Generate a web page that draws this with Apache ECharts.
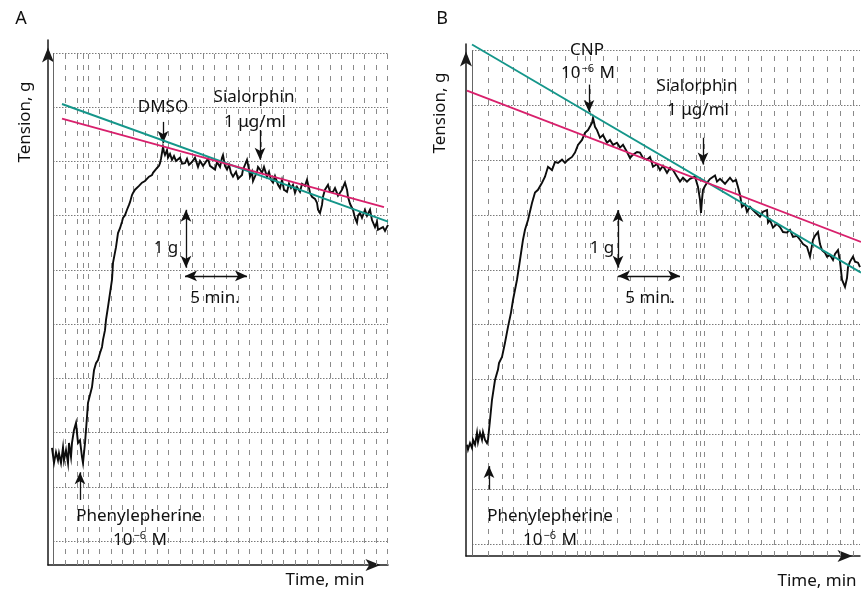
<!DOCTYPE html>
<html>
<head>
<meta charset="utf-8">
<script src="https://cdn.jsdelivr.net/npm/echarts@6/dist/echarts.min.js"></script>
<style>
  html, body { margin: 0; padding: 0; background: #fff; }
  #main { width: 861px; height: 595px; }
</style>
</head>
<body>
<div id="main"></div>
<script>
// time in min, tension in g
var traceA = [[0.32,1.72],[0.48,1.44],[0.64,1.64],[0.80,1.49],[0.88,1.62],[1.04,1.44],[1.20,1.73],[1.28,1.49],[1.44,1.68],[1.60,1.44],[1.68,1.81],[1.84,1.55],[1.92,1.81],[2.08,2.05],[2.24,2.18],[2.32,1.99],[2.40,1.81],[2.56,1.86],[2.72,1.55],[2.80,1.44],[2.96,1.81],[3.12,2.29],[3.20,2.55],[3.52,2.84],[3.68,3.15],[3.84,3.28],[4.00,3.34],[4.16,3.47],[4.32,3.58],[4.40,3.71],[4.56,3.89],[4.64,4.08],[4.80,4.32],[5.12,4.82],[5.20,5.13],[5.44,5.42],[5.60,5.68],[5.76,5.77],[5.92,5.89],[6.00,5.96],[6.16,6.01],[6.32,6.11],[6.48,6.20],[6.56,6.25],[6.72,6.38],[6.80,6.42],[6.96,6.48],[7.12,6.51],[7.28,6.55],[7.36,6.57],[7.52,6.61],[7.60,6.62],[7.76,6.64],[7.92,6.66],[8.08,6.72],[8.16,6.70],[8.32,6.75],[8.40,6.79],[8.56,6.81],[8.72,6.88],[8.88,6.92],[8.96,6.97],[9.04,7.05],[9.12,7.08],[9.20,7.27],[9.28,7.18],[9.36,7.12],[9.52,7.21],[9.60,7.07],[9.76,7.14],[9.92,7.03],[10.08,7.10],[10.24,7.01],[10.40,6.99],[10.56,7.07],[10.72,6.96],[10.96,6.97],[11.12,7.05],[11.28,6.94],[11.52,6.99],[11.76,7.07],[12.00,6.90],[12.16,7.01],[12.40,6.92],[12.56,6.97],[12.80,7.05],[12.96,6.92],[13.12,6.90],[13.36,6.85],[13.52,6.99],[13.76,6.90],[13.92,7.07],[14.00,7.12],[14.16,6.92],[14.32,6.85],[14.48,6.94],[14.64,6.79],[14.80,6.72],[15.04,6.81],[15.20,6.68],[15.36,6.66],[15.52,6.75],[15.60,6.85],[15.76,6.94],[15.92,7.03],[16.08,6.85],[16.16,6.72],[16.32,6.81],[16.40,6.64],[16.56,6.66],[16.72,6.81],[16.80,6.90],[16.96,6.85],[17.12,6.79],[17.28,6.90],[17.52,6.72],[17.68,6.81],[17.84,6.66],[18.00,6.61],[18.16,6.73],[18.40,6.57],[18.56,6.51],[18.72,6.66],[18.88,6.48],[19.12,6.44],[19.28,6.59],[19.44,6.51],[19.60,6.57],[19.76,6.42],[19.92,6.53],[20.16,6.44],[20.32,6.59],[20.56,6.55],[20.72,6.66],[20.88,6.51],[20.96,6.42],[21.12,6.35],[21.36,6.31],[21.52,6.24],[21.60,6.11],[21.76,6.05],[21.92,6.20],[22.00,6.35],[22.16,6.48],[22.40,6.57],[22.56,6.44],[22.80,6.44],[22.96,6.51],[23.20,6.37],[23.36,6.35],[23.52,6.48],[23.76,6.61],[23.92,6.48],[24.00,6.35],[24.16,6.22],[24.40,6.11],[24.56,5.96],[24.72,5.87],[24.80,6.00],[24.96,6.05],[25.12,5.96],[25.36,6.11],[25.52,6.00],[25.76,6.11],[25.92,5.92],[26.16,5.79],[26.32,5.89],[26.40,5.74],[26.56,5.77],[26.80,5.79],[26.96,5.72],[27.20,5.83]];

var traceB = [[0.08,1.81],[0.16,1.72],[0.32,1.84],[0.48,1.75],[0.56,1.90],[0.72,1.81],[0.88,2.03],[0.96,1.86],[1.12,2.03],[1.28,1.90],[1.36,2.04],[1.52,1.90],[1.68,1.84],[1.76,1.90],[1.92,2.26],[2.08,2.63],[2.32,2.99],[2.56,3.18],[2.64,3.30],[2.88,3.41],[3.12,3.67],[3.36,3.96],[3.60,4.22],[3.76,4.45],[4.08,4.82],[4.32,5.18],[4.56,5.55],[4.72,5.73],[4.96,5.91],[5.28,6.22],[5.52,6.41],[5.76,6.46],[6.08,6.59],[6.32,6.70],[6.56,6.88],[6.88,6.82],[7.12,6.97],[7.36,6.95],[7.68,7.01],[7.92,6.95],[8.16,7.01],[8.48,7.06],[8.72,7.14],[8.96,7.28],[9.28,7.37],[9.52,7.50],[9.76,7.55],[10.08,7.68],[10.16,7.77],[10.32,7.61],[10.48,7.55],[10.72,7.41],[10.96,7.46],[11.28,7.32],[11.52,7.37],[11.76,7.28],[12.08,7.32],[12.32,7.23],[12.56,7.28],[12.88,7.15],[13.12,7.04],[13.36,7.10],[13.68,7.15],[13.92,7.14],[14.16,7.04],[14.48,7.01],[14.72,7.06],[14.96,6.88],[15.28,6.93],[15.52,6.82],[15.76,6.90],[16.08,6.77],[16.32,6.86],[16.56,6.82],[16.88,6.70],[17.12,6.61],[17.36,6.68],[17.68,6.61],[17.92,6.66],[18.08,6.64],[18.32,6.70],[18.56,6.51],[18.72,6.28],[18.80,6.04],[18.88,6.28],[18.96,6.46],[19.12,6.53],[19.28,6.59],[19.52,6.66],[19.68,6.64],[19.92,6.72],[20.08,6.61],[20.32,6.66],[20.48,6.68],[20.72,6.57],[20.88,6.59],[21.12,6.68],[21.36,6.61],[21.60,6.64],[21.76,6.51],[21.92,6.37],[22.08,6.15],[22.32,6.20],[22.48,6.06],[22.72,6.15],[22.96,6.09],[23.28,6.02],[23.52,5.97],[23.76,6.06],[24.08,6.09],[24.16,5.86],[24.32,5.91],[24.56,5.77],[24.88,5.84],[25.12,5.78],[25.36,5.69],[25.68,5.68],[25.92,5.73],[26.16,5.60],[26.48,5.62],[26.72,5.55],[26.96,5.47],[27.28,5.42],[27.52,5.24],[27.76,5.55],[27.92,5.62],[28.16,5.69],[28.32,5.47],[28.48,5.36],[28.72,5.31],[28.88,5.24],[29.12,5.27],[29.36,5.18],[29.52,5.29],[29.76,5.36],[29.92,5.15],[30.08,4.82],[30.32,4.69],[30.48,4.85],[30.56,5.05],[30.72,5.15],[30.96,5.24],[31.12,5.15],[31.36,5.13],[31.52,5.05]];

// regression lines
var tealA = [[1.12, 8.06], [27.2, 5.89]];
var pinkA = [[1.12, 7.79], [26.88, 6.16]];
var tealB = [[0.48, 9.11], [31.6, 4.95]];
var pinkB = [[0.08, 8.27], [31.6, 5.51]];

// chart paper rulings
var rows = [0, 1, 2, 3, 4, 5, 6, 7, 8, 9];
var colsA = [1.36,2.32,2.80,3.20,4.08,5.04,5.92,6.80,7.76,8.72,9.60,10.56,11.52,12.40,13.28,14.24,15.20,16.08,17.04,17.92,18.80,19.76,20.72,21.60,22.56,23.44,24.40,25.28,26.24,27.12];
var colsB = [1.76,2.88,3.76,4.88,5.92,6.88,7.92,8.88,9.52,9.92,10.96,12.08,13.12,14.24,15.28,16.32,17.36,18.40,18.72,19.04,20.48,21.52,22.56,23.60,24.64,25.68,26.72,27.76,28.88,29.92,30.96];
var edgeA = 0.40, edgeB = 0.48;

// annotation arrows: from, to, double-headed?
var arrowsA = [
  [[9.2, 7.73], [9.2, 7.34], false],
  [[16.96, 7.58], [16.96, 7.03], false],
  [[11.04, 6.11], [11.04, 5.04], true],
  [[10.96, 4.89], [15.92, 4.89], true],
  [[2.56, 0.76], [2.56, 1.27], false]
];
var arrowsB = [
  [[9.84, 8.38], [9.84, 7.88], false],
  [[18.96, 7.41], [18.96, 6.92], false],
  [[12.16, 6.09], [12.16, 5.04], true],
  [[12.16, 4.89], [17.12, 4.89], true],
  [[1.84, 0.99], [1.84, 1.42], false]
];
var CONC = '{n|10}{s|\u22126}{n| M}';
var labelsA = [
  ['DMSO', 9.2, 8.01], ['Sialorphin', 16.48, 8.19], ['1 \u03bcg/ml', 16.56, 7.73],
  ['1 g', 9.44, 5.41], ['5 min.', 13.36, 4.48],
  ['Phenylepherine', 7.28, 0.46], [CONC, 7.36, 0.02]
];
var labelsB = [
  ['CNP', 9.68, 9.01], [CONC, 9.76, 8.59],
  ['Sialorphin', 18.48, 8.36], ['1 \u03bcg/ml', 18.56, 7.92],
  ['1 g', 10.88, 5.40], ['5 min.', 14.72, 4.49],
  ['Phenylepherine', 6.72, 0.51], [CONC, 6.72, 0.07]
];

var FAM = '"Noto Sans", "Open Sans", sans-serif';
var chart = echarts.init(document.getElementById('main'));

function axisLine(size) {
  return {
    show: true, onZero: false,
    symbol: ['none', 'arrow'], symbolSize: [9, size], symbolOffset: [0, -size / 2],
    lineStyle: { color: '#1a1a1a', width: 1.5 }
  };
}
function ax(i, min, max) {
  return { gridIndex: i, type: 'value', min: min, max: max, axisLine: axisLine(15),
    axisTick: { show: false }, axisLabel: { show: false }, splitLine: { show: false } };
}

function panel(i, trace, teal, pink, cols, edge, xmax, ymin, arrows) {
  var rules = [];
  rows.forEach(function (k) {
    var st = { color: '#7a7a7a', width: 1, type: [1.5, 1.5] };
    rules.push([{ coord: [edge, k], lineStyle: st }, { coord: [xmax, k], lineStyle: st }]);
  });
  cols.forEach(function (c) {
    var st = { color: '#8a8a8a', width: 1, type: [5, 6] };
    rules.push([{ coord: [c, ymin], lineStyle: st }, { coord: [c, 9], lineStyle: st }]);
  });
  var est = { color: '#666', width: 1, type: 'solid' };
  rules.push([{ coord: [edge, ymin], lineStyle: est }, { coord: [edge, 9], lineStyle: est }]);

  var marks = arrows.map(function (a) {
    return [{ coord: a[0], symbol: a[2] ? 'arrow' : 'none' }, { coord: a[1], symbol: 'arrow' }];
  });

  return [
    { type: 'line', xAxisIndex: i, yAxisIndex: i, data: [], silent: true, z: 1,
      markLine: { silent: true, symbol: 'none', label: { show: false }, animation: false, data: rules } },
    { type: 'line', xAxisIndex: i, yAxisIndex: i, data: trace, symbol: 'none', z: 5,
      lineStyle: { color: '#0d0d0d', width: 1.9, join: 'miter' } },
    { type: 'line', xAxisIndex: i, yAxisIndex: i, data: teal, symbol: 'none', z: 6, clip: false,
      lineStyle: { color: '#15968a', width: 1.9 } },
    { type: 'line', xAxisIndex: i, yAxisIndex: i, data: pink, symbol: 'none', z: 6, clip: false,
      lineStyle: { color: '#d8206c', width: 1.9 } },
    { type: 'line', xAxisIndex: i, yAxisIndex: i, data: [], z: 7,
      markLine: { silent: true, symbolSize: [8, 12], label: { show: false }, animation: false,
        lineStyle: { color: '#111', width: 1.3, type: 'solid' }, data: marks } }
  ];
}

var option = {
  animation: false,
  backgroundColor: '#fff',
  grid: [
    { left: 48, top: 40, width: 340, height: 525 },
    { left: 466, top: 44, width: 394, height: 512 }
  ],
  xAxis: [ax(0, 0, 27.2), ax(1, 0, 31.52)],
  yAxis: [ax(0, -0.44, 9.24), ax(1, -0.22, 9.12)],
  series: [].concat(
    panel(0, traceA, tealA, pinkA, colsA, edgeA, 27.2, -0.44, arrowsA),
    panel(1, traceB, tealB, pinkB, colsB, edgeB, 31.52, -0.22, arrowsB)
  )
};
chart.setOption(option);

function txt(text, x, y, size, rot) {
  return { type: 'text', x: x, y: y, rotation: rot || 0, z: 20, silent: true,
    style: { text: text, font: size + 'px ' + FAM, fill: '#111', align: 'center', verticalAlign: 'middle',
      rich: {
        n: { fontSize: size, fontFamily: FAM, fill: '#111', color: '#111' },
        s: { fontSize: 11, fontFamily: FAM, fill: '#111', color: '#111', verticalAlign: 'top', padding: [0, 1, 8, 1] }
      } } };
}
var gfx = [
  txt('A', 21, 19, 18), txt('B', 442, 19, 18),
  txt('Tension, g', 25, 122, 17, Math.PI / 2), txt('Tension, g', 440, 113, 17, Math.PI / 2),
  txt('Time, min', 325, 580, 17), txt('Time, min', 817, 581, 17)
];
labelsA.forEach(function (l) {
  var p = chart.convertToPixel({ gridIndex: 0 }, [l[1], l[2]]);
  gfx.push(txt(l[0], p[0], p[1], 17));
});
labelsB.forEach(function (l) {
  var p = chart.convertToPixel({ gridIndex: 1 }, [l[1], l[2]]);
  gfx.push(txt(l[0], p[0], p[1], 17));
});
chart.setOption({ graphic: gfx });
</script>
</body>
</html>
